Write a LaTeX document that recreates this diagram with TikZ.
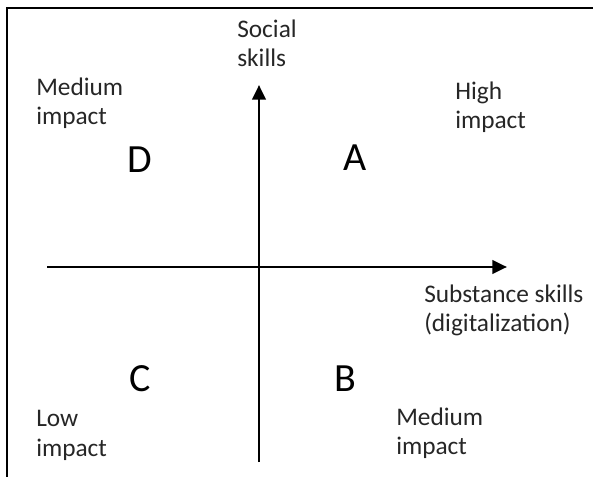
\documentclass[tikz,border=0pt]{standalone}
\usepackage{fontspec}
\setmainfont{Carlito}
\usetikzlibrary{arrows.meta}
\begin{document}
\begin{tikzpicture}[x=0.75pt,y=-0.75pt,
  axis/.style={line width=2.2pt,-{Triangle[length=11pt,width=10pt]}},
  lbl/.style={anchor=base west,inner sep=0pt,align=left,font=\fontsize{19}{22}\selectfont,text=black!85},
  quad/.style={inner sep=0pt,font=\fontsize{30}{36}\selectfont}]
\useasboundingbox (0,0) rectangle (593,477);
\draw[line width=1.5pt] (7,477) -- (7,8) -- (593,8);
\coordinate (xl) at (47,267);
\coordinate (xr) at (507,267);
\coordinate (yb) at (259,462);
\coordinate (yt) at (259,85);
\draw[axis] (xl) -- (xr);
\draw[axis] (yb) -- (yt);
\node[lbl] (social) at (237,67) {Social\\skills};
\node[lbl] (subst) at (424,332) {Substance skills\\(digitalization)};
\node[lbl] (medD) at (36,125) {Medium\\impact};
\node[lbl] (high) at (455,129) {High\\impact};
\node[lbl] (low) at (36,456) {Low\\impact};
\node[lbl] (medB) at (396,455) {Medium\\impact};
\node[quad] (D) at (140,160) {D};
\node[quad] (A) at (355,158) {A};
\node[quad] (C) at (140,379) {C};
\node[quad] (B) at (345,379) {B};
\end{tikzpicture}
\end{document}
